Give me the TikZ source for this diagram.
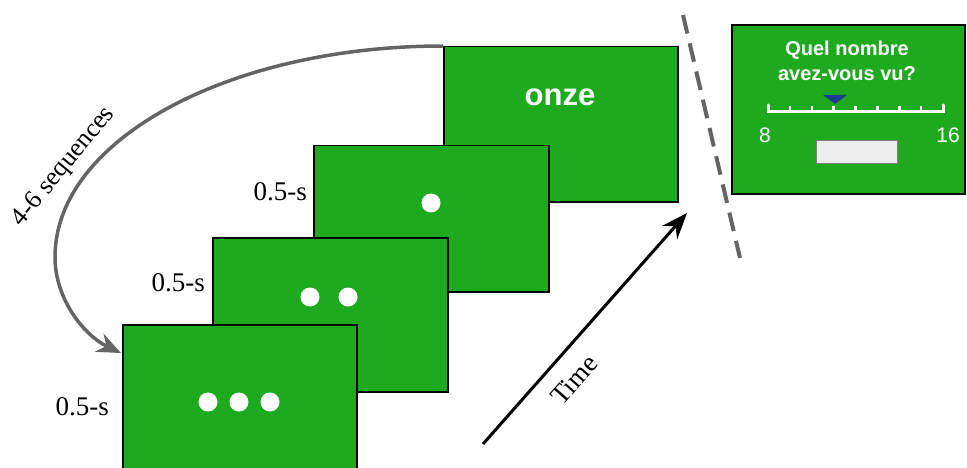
\documentclass[tikz,border=0pt]{standalone}
\usepackage{fontspec}
\setmainfont{Liberation Serif}
\newfontfamily\arialfont{Liberation Sans}
\usetikzlibrary{arrows.meta}
\definecolor{screengreen}{RGB}{30,170,30}
\definecolor{loopgray}{RGB}{100,100,100}
\definecolor{pointerblue}{RGB}{30,60,140}
\tikzset{
	screen/.style={draw=black, line width=1.5pt, fill=screengreen,
			anchor=north west, inner sep=0pt},
	dot/.style={fill=white},
	duration/.style={anchor=east, inner sep=0pt,
			font=\fontsize{27}{30}\selectfont},
	tick/.style={draw=white, line width=2.5pt}
}

\begin{document}
\begin{tikzpicture}[x=1pt,y=-1pt]
			\useasboundingbox (0,0) rectangle (967,468);
			% stimulus screens, back to front
			\node[screen, minimum width=234pt, minimum height=155pt] (onze) at (443,46) {};
			\node[font=\arialfont\bfseries\fontsize{31}{34}\selectfont, text=white] (word) at (560,97) {onze};
			\node[screen, minimum width=235pt, minimum height=146pt] (one) at (313,145) {};
			\fill[dot] (431,203) circle (9.5pt);
			\node[screen, minimum width=235pt, minimum height=154pt] (two) at (212,237) {};
			\fill[dot] (310,297) circle (9.5pt);
			\fill[dot] (348,297) circle (9.5pt);
			\node[screen, minimum width=234pt, minimum height=154pt] (three) at (122,324) {};
			\foreach \x in {208,239,270}
				\fill[dot] (\x,402) circle (9.5pt);
			\node[duration] (d1) at (307,192) {0.5-s};
			\node[duration] (d2) at (205,283) {0.5-s};
			\node[duration] (d3) at (109,407) {0.5-s};
			% loop back
			\coordinate (loopmid) at (55,257);
			\coordinate (loopend) at (121,353);
			\draw[loopgray, line width=3.5pt, -{Stealth[length=24pt,width=20pt]}]
				(onze.north west) .. controls (229,46) and (55,140) .. (loopmid)
				.. controls (55,300) and (85,336) .. (loopend);
			\node[rotate=50.4, font=\fontsize{26}{28}\selectfont] (seq) at (64,167) {4-6 sequences};
			% time axis
			\coordinate (tstart) at (483,444);
			\coordinate (tend) at (687,213);
			\draw[line width=3pt, -{Stealth[length=26pt,width=20pt]}] (tstart) -- (tend);
			\node[rotate=48.6, font=\fontsize{27}{30}\selectfont] (time) at (574,380) {Time};
			% separator
			\coordinate (sepa) at (683,15);
			\coordinate (sepb) at (740,258);
			\draw[loopgray, line width=4pt, dash pattern=on 19pt off 10pt] (sepa) -- (sepb);
			% response screen
			\node[screen, line width=2pt, minimum width=233pt, minimum height=169pt] (resp) at (731,24) {};
			\node[font=\arialfont\bfseries\fontsize{20}{25}\selectfont, text=white, align=center] (quest) at (847,61) {Quel nombre\\avez-vous vu?};
			\draw[tick, line width=3pt, line cap=round] (768,105) -- (768,112) -- (943,112) -- (943,105);
			\foreach \i in {1,...,7}
				\draw[tick] (768+\i*21.875,112) -- (768+\i*21.875,106.5);
			\fill[pointerblue] (823,95) -- (847,95) -- (835,104) -- cycle;
			\node[font=\arialfont\fontsize{21}{22}\selectfont, text=white] (lo) at (765,135) {8};
			\node[font=\arialfont\fontsize{21}{22}\selectfont, text=white] (hi) at (948,135) {16};
			\draw[draw=gray, fill=black!7, line width=1pt] (816,141) rectangle (897,164);
		\end{tikzpicture}
\end{document}
